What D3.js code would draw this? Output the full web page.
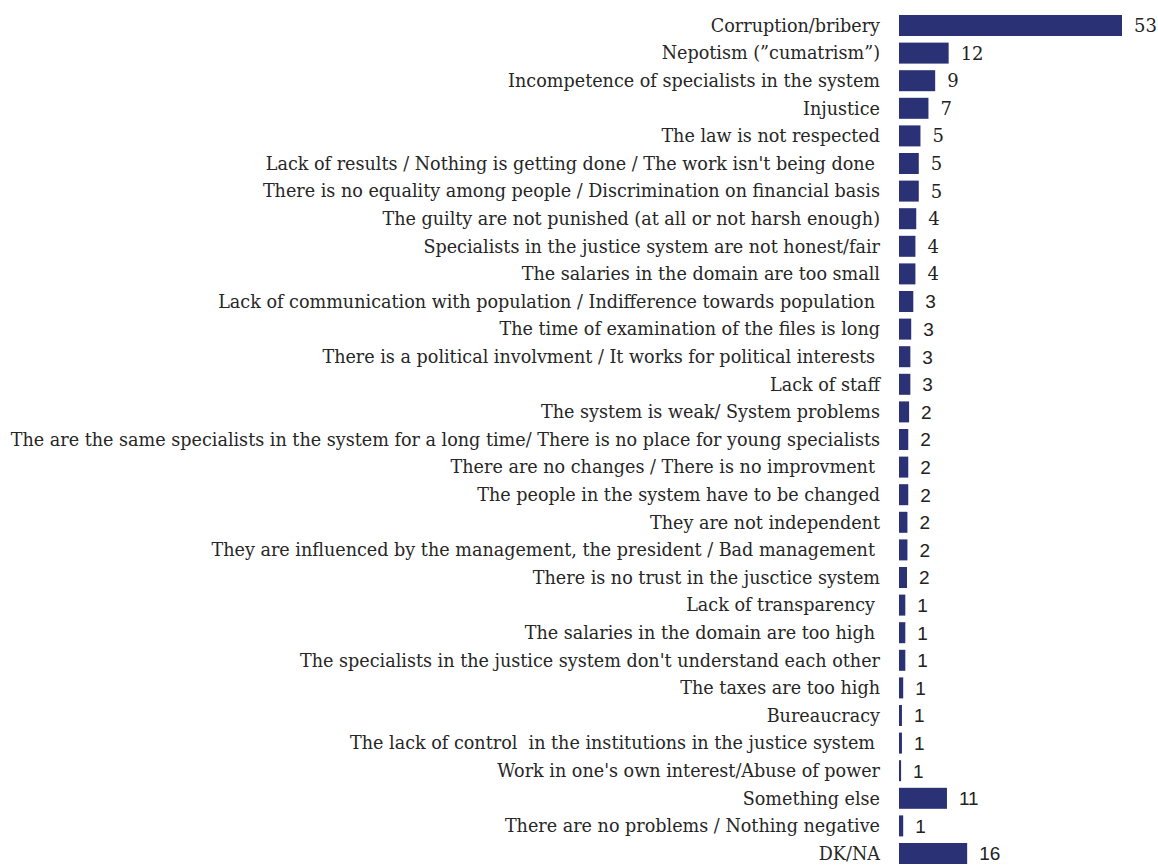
<!DOCTYPE html>
<html><head><meta charset="utf-8">
<script src="https://cdn.jsdelivr.net/npm/d3@7"></script>
<style>body{margin:0;background:#fff} text{white-space:pre}</style>
</head><body>
<svg id="c" width="1158" height="865"></svg>
<script>
const categories = [
  "Corruption/bribery",
  "Nepotism (\u201dcumatrism\u201d)",
  "Incompetence of specialists in the system",
  "Injustice",
  "The law is not respected",
  "Lack of results / Nothing is getting done / The work isn't being done",
  "There is no equality among people / Discrimination on financial basis",
  "The guilty are not punished (at all or not harsh enough)",
  "Specialists in the justice system are not honest/fair",
  "The salaries in the domain are too small",
  "Lack of communication with population / Indifference towards population",
  "The time of examination of the files is long",
  "There is a political involvment / It works for political interests",
  "Lack of staff",
  "The system is weak/ System problems",
  "The are the same specialists in the system for a long time/ There is no place for young specialists",
  "There are no changes / There is no improvment",
  "The people in the system have to be changed",
  "They are not independent",
  "They are influenced by the management, the president / Bad management",
  "There is no trust in the jusctice system",
  "Lack of transparency",
  "The salaries in the domain are too high",
  "The specialists in the justice system don't understand each other",
  "The taxes are too high",
  "Bureaucracy",
  "The lack of control  in the institutions in the justice system",
  "Work in one's own interest/Abuse of power",
  "Something else",
  "There are no problems / Nothing negative",
  "DK/NA"
];
// rows whose label carries a trailing space in the original
const trailingSpace = [5, 10, 12, 16, 19, 21, 22, 26];
// bar lengths and printed labels
const values = [53.0, 11.8, 8.6, 7.0, 5.1, 4.7, 4.7, 4.1, 3.9, 3.9, 3.4, 2.9, 2.7, 2.7, 2.4, 2.2, 2.2, 2.2, 2.0, 2.0, 1.9, 1.5, 1.5, 1.5, 1.0, 0.7, 0.7, 0.5, 11.4, 1.0, 16.2];
const valueLabels = ["53","12","9","7","5","5","5","4","4","4","3","3","3","3","2","2","2","2","2","2","2","1","1","1","1","1","1","1","11","1","16"];
</script>
<script>
const svg = d3.select("#c");
const n = categories.length;
const y = d3.scalePoint().domain(d3.range(n)).range([25.5, 853.5]);
const x = d3.scaleLinear().domain([0, 53]).range([899, 1122]);
const barH = 21;
const labelFont = "'DejaVu Serif', serif";
const g = svg.append("g");
const labels = g.selectAll("text.lab").data(categories).join("text")
  .attr("class","lab")
  .attr("x", (d,i)=> trailingSpace.includes(i) ? 875 : 880)
  .attr("y", (d,i)=>y(i))
  .attr("dy","0.36em").attr("text-anchor","end")
  .attr("fill","#262626").style("font-family",labelFont).style("font-size","17px")
  .text(d=>d);
let maxW = 0;
labels.each(function(){ maxW = Math.max(maxW, this.getComputedTextLength()); });
const fs = 17 * 870 / maxW;
labels.style("font-size", fs + "px");

g.selectAll("rect.bar").data(values).join("rect")
  .attr("class","bar")
  .attr("x", x(0)).attr("y",(d,i)=>y(i)-barH/2)
  .attr("width", d=>x(d)-x(0)).attr("height", barH)
  .attr("fill","#2b3175");

g.selectAll("text.val").data(values).join("text")
  .attr("class","val")
  .attr("x", d=>x(d)+12).attr("y",(d,i)=>y(i))
  .attr("dy","0.36em")
  .attr("fill","#222")
  .style("font-family",(d,i)=> i < 10 ? "'DejaVu Serif', serif" : "'Liberation Sans', sans-serif")
  .style("font-size", (d,i)=> i < 10 ? "18px" : "19px")
  .text((d,i)=>valueLabels[i]);
</script>
</body></html>
